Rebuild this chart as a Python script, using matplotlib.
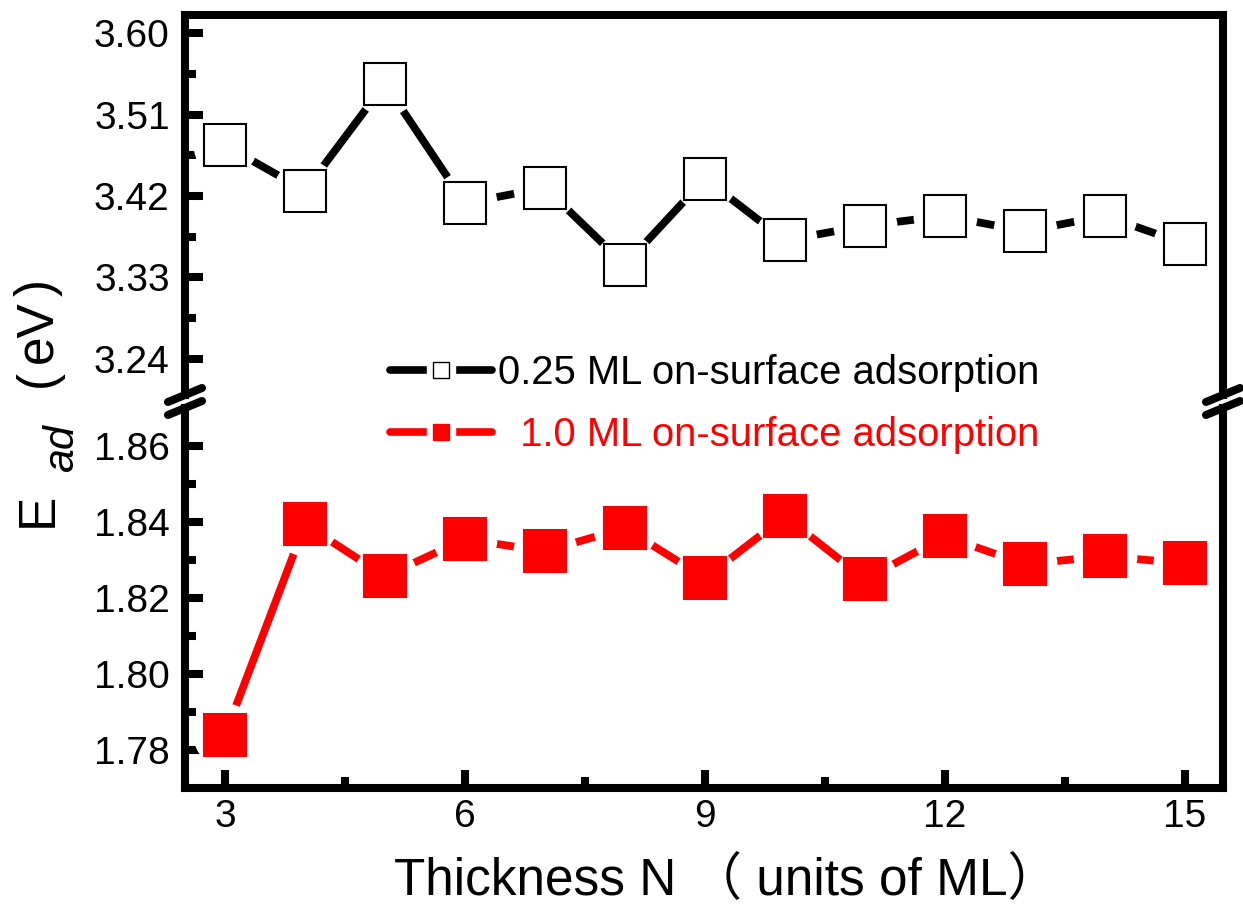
import matplotlib
matplotlib.use('Agg')
import matplotlib.pyplot as plt
from matplotlib.lines import Line2D
from matplotlib.legend_handler import HandlerTuple

plt.rcParams['font.family'] = ['Liberation Sans', 'Noto Sans CJK SC', 'DejaVu Sans']

# ---------------- data ----------------
thickness = [3, 4, 5, 6, 7, 8, 9, 10, 11, 12, 13, 14, 15]
e_ad_025 = [3.476, 3.426, 3.544, 3.412, 3.429, 3.344, 3.439,
            3.371, 3.387, 3.398, 3.381, 3.398, 3.367]
e_ad_100 = [1.784, 1.8394, 1.8257, 1.8355, 1.8323, 1.8384, 1.8252,
            1.8415, 1.8249, 1.8362, 1.8289, 1.8310, 1.8291]
label_025 = '0.25 ML on-surface adsorption'
label_100 = '  1.0 ML on-surface adsorption'
x_ticks = [3, 6, 9, 12, 15]
top_ticks = [3.24, 3.33, 3.42, 3.51, 3.60]
bottom_ticks = [1.78, 1.80, 1.82, 1.84, 1.86]
x_label = 'Thickness N （ units of ML）'
y_label_main = 'E'
y_label_sub = 'ad'
y_label_open = '('
y_label_unit = 'eV'
y_label_close = ')'

# ---------------- layout ----------------
W, H = 1243, 909
fig = plt.figure(figsize=(W / 100, H / 100), dpi=100)
left_px, right_px = 185, 1223
top_px, brk_hi, brk_lo, bot_px = 15, 395, 408, 788
L = left_px / W
Wd = (right_px - left_px) / W
ax_top = fig.add_axes([L, 1 - brk_hi / H, Wd, (brk_hi - top_px) / H])
ax_bot = fig.add_axes([L, 1 - bot_px / H, Wd, (bot_px - brk_lo) / H])

SPW = 5.8
BLACK = '#000000'
RED = '#FF0000'


def mid(v):
    return [(a + b) / 2 for a, b in zip(v[:-1], v[1:])]


def draw_series(ax, x, y, color, face):
    ax.plot(x, y, color=color, lw=5.6, solid_capstyle='round', zorder=2)
    ax.plot(x, y, ls='none', marker='o', ms=46, mfc='white', mec='white',
            mew=0, zorder=3)
    ax.plot(x, y, ls='none', marker='s', ms=30, mfc=face, mec=color,
            mew=1.5, zorder=4)


draw_series(ax_top, thickness, e_ad_025, BLACK, 'white')
draw_series(ax_bot, thickness, e_ad_100, RED, RED)

for ax in (ax_top, ax_bot):
    ax.set_xlim(2.5, 15.475)
    for s in ax.spines.values():
        s.set_linewidth(SPW)
    ax.tick_params(axis='both', which='major', direction='in', length=13,
                   width=SPW, labelsize=28, pad=11)
    ax.tick_params(axis='both', which='minor', direction='in', length=8,
                   width=SPW)
    ax.tick_params(axis='x', top=False, which='both')
    ax.tick_params(axis='y', right=False, which='both')

ax_top.set_ylim(3.20, 3.62)
ax_top.spines['bottom'].set_visible(False)
ax_top.tick_params(axis='x', bottom=False, labelbottom=False, which='both')
ax_top.set_yticks(top_ticks)
ax_top.set_yticks(mid(top_ticks), minor=True)
ax_top.set_yticklabels([f'{v:.2f}' for v in top_ticks])

ax_bot.set_ylim(1.77, 1.87)
ax_bot.spines['top'].set_visible(False)
ax_bot.set_yticks(bottom_ticks)
ax_bot.set_yticks(mid(bottom_ticks), minor=True)
ax_bot.set_yticklabels([f'{v:.2f}' for v in bottom_ticks])
ax_bot.set_xticks(x_ticks)
ax_bot.set_xticks(mid(x_ticks), minor=True)
ax_bot.tick_params(axis='x', pad=8)

ax_bot.set_xlabel(x_label, fontsize=37, labelpad=16)
ax_bot.xaxis.label.set_x((726 - left_px) / (right_px - left_px))


# y label built from pieces (rotated, reading bottom to top)
def vpiece(xpx, ypx, s, **kw):
    fig.text(xpx / W, 1 - ypx / H, s, rotation=90, rotation_mode='anchor',
             ha='left', va='baseline', family='Liberation Sans', **kw)


vpiece(52, 527, y_label_main, fontsize=37)
vpiece(73, 472, y_label_sub, fontsize=31, style='italic')
vpiece(52, 387, y_label_open, fontsize=37)
vpiece(51, 363, y_label_unit, fontsize=37)
vpiece(52, 296, y_label_close, fontsize=37)

# break marks on both side spines
for xs in (left_px, right_px):
    for yb in (brk_hi, brk_lo):
        fig.add_artist(Line2D([(xs - 17) / W, (xs + 17) / W],
                              [1 - (yb + 7) / H, 1 - (yb - 7) / H],
                              transform=fig.transFigure, color=BLACK,
                              lw=SPW, solid_capstyle='round'))

# ---------------- legend ----------------
h1 = (Line2D([], [], color=BLACK, lw=5.5, solid_capstyle='round'),
      Line2D([], [], ls='none', marker='s', ms=20, mfc='white', mec='white'),
      Line2D([], [], ls='none', marker='s', ms=12, mfc='white', mec=BLACK,
             mew=1))
h2 = (Line2D([], [], color=RED, lw=5.5, solid_capstyle='round'),
      Line2D([], [], ls='none', marker='s', ms=20, mfc='white', mec='white'),
      Line2D([], [], ls='none', marker='s', ms=12, mfc=RED, mec=RED, mew=1))
leg = fig.legend([h1, h2], [label_025, label_100],
                 handler_map={tuple: HandlerTuple(ndivide=1, pad=0)},
                 loc='upper left', bbox_to_anchor=(390 / W, 1 - 354 / H),
                 frameon=False, fontsize=28.8, handlelength=2.55,
                 handletextpad=0.15, labelspacing=0.6, borderpad=0,
                 borderaxespad=0)
for t, c in zip(leg.get_texts(), [BLACK, RED]):
    t.set_color(c)

fig.savefig('out.png', dpi=100)
